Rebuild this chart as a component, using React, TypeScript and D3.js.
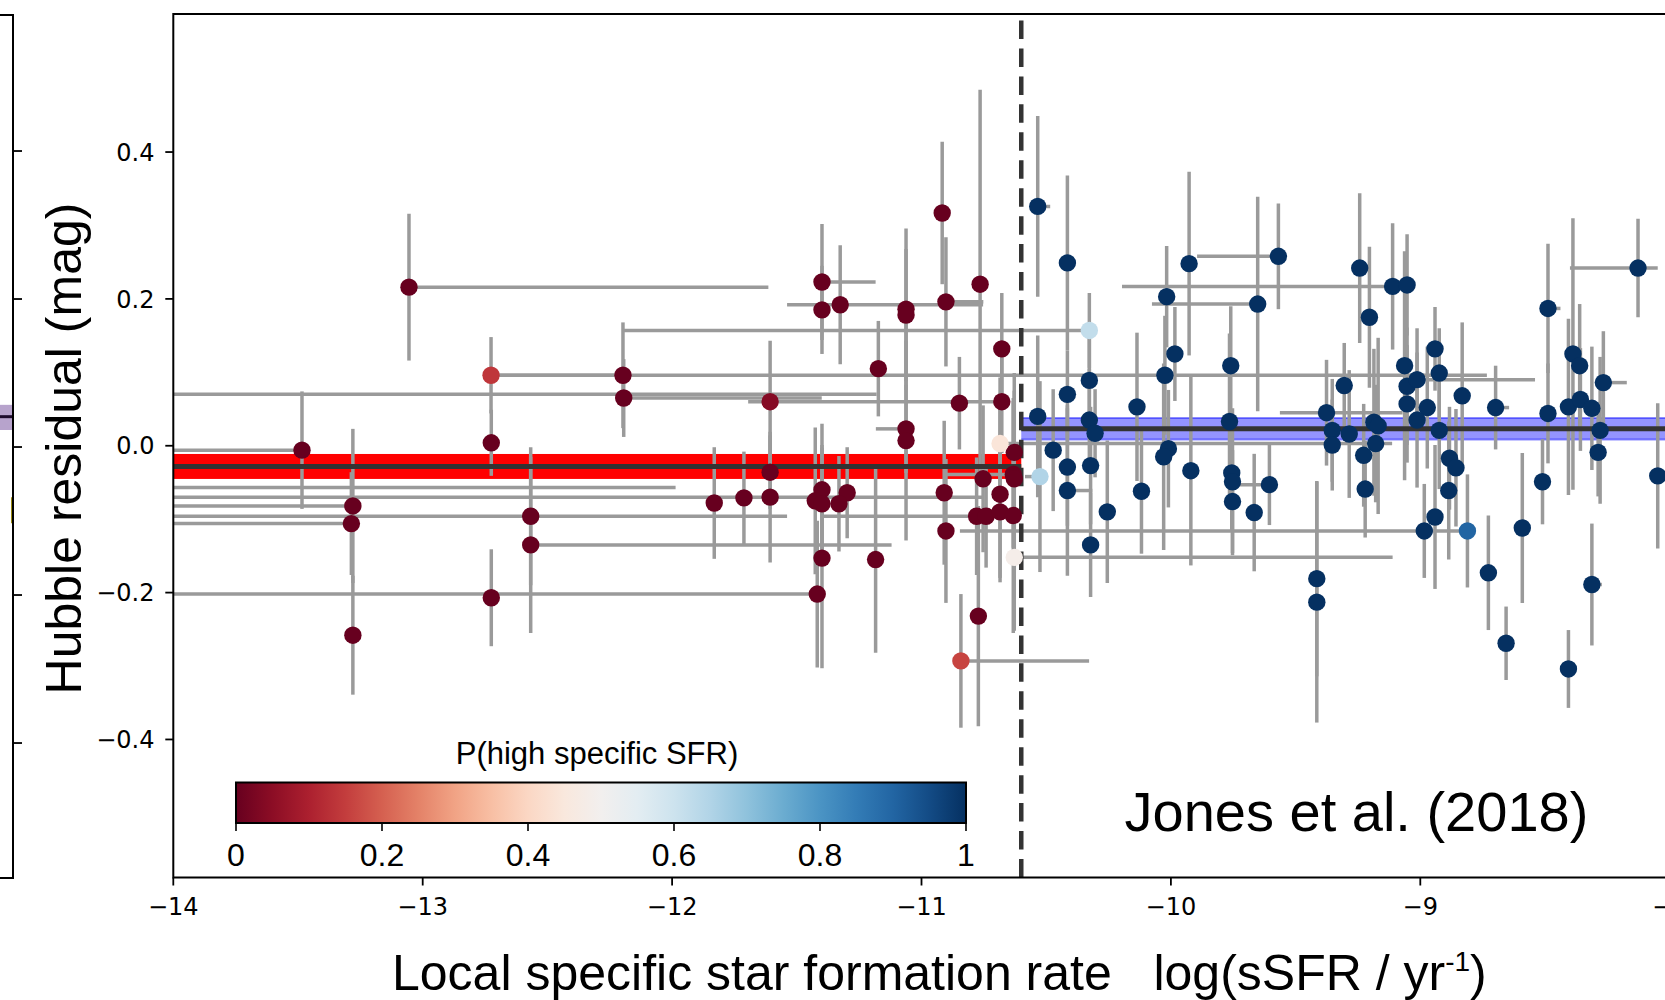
import React from 'react';
import * as d3 from 'd3';

const W = 1665;
const H = 1000;

// ---- data: local sSFR (x), Hubble residual (y), errors, P(high sSFR) ----
const sSFR = [
  -13.055, -12.726, -12.197, -12.194, -13.484, -12.725, -13.28, -13.286, -13.28, -12.725,
  -12.567, -12.567, -11.831, -11.712, -11.607, -11.607, -11.607, -11.399, -11.399, -11.326,
  -11.062, -11.062, -10.917, -10.902, -10.765, -10.678, -11.173, -10.848, -10.678, -11.062,
  -11.062, -11.399, -11.426, -11.399, -11.298, -11.331, -10.909, -10.902, -10.753, -10.685,
  -10.779, -10.741, -10.685, -10.632, -10.628, -10.632, -10.628, -10.685, -10.628, -11.399,
  -11.184, -11.418, -10.772, -10.842, -14.2, -14.2,
  -10.534, -10.415, -10.327, -10.327, -10.415, -10.534, -10.327, -10.304, -10.472, -10.415,
  -10.322, -10.525, -10.415, -10.255, -10.322,
  -9.927, -9.569, -10.017, -9.652, -9.243, -9.204, -9.111, -9.053, -9.984, -10.024,
  -9.76, -10.136, -9.765, -10.01, -10.029, -9.92, -10.118, -9.756, -9.753, -9.753,
  -9.605, -9.666, -9.415, -9.415, -9.305, -9.376, -9.353, -9.353, -9.285, -9.186,
  -9.169, -9.179, -9.227, -9.221, -9.063, -9.053, -9.013, -9.053, -8.972, -9.013,
  -8.941, -8.924, -8.924, -8.832, -8.883, -8.857, -8.886, -8.941, -8.984, -8.811,
  -8.698, -8.727, -8.656, -8.591, -8.488, -8.488, -8.51, -8.388, -8.361, -8.406,
  -8.358, -8.312, -8.266, -8.279, -8.287, -8.312, -8.406, -8.127, -8.048,
];
const hubbleResid = [
  0.216, 0.096, 0.096, 0.065, -0.006, 0.004, -0.082, -0.106, -0.258, -0.207,
  -0.096, -0.135, -0.078, -0.071, 0.06, -0.036, -0.07, 0.223, 0.185, 0.192,
  0.186, 0.178, 0.317, 0.196, 0.22, 0.132, 0.105, 0.058, 0.06, 0.023,
  0.007, -0.06, -0.075, -0.079, -0.064, -0.079, -0.064, -0.116, -0.045, -0.066,
  -0.096, -0.096, -0.09, -0.095, -0.009, -0.039, -0.045, 0.003, -0.152, -0.153,
  -0.155, -0.202, -0.232, -0.293, 0.07, -0.057,
  0.326, 0.249, 0.157, 0.089, 0.07, 0.04, 0.035, 0.017, -0.006, -0.029,
  -0.027, -0.042, -0.061, -0.09, -0.135,
  0.248, 0.258, 0.203, 0.193, 0.242, 0.175, 0.217, 0.219, 0.125, 0.096,
  0.109, 0.053, 0.033, -0.004, -0.015, -0.034, -0.062, -0.037, -0.049, -0.076,
  -0.053, -0.091, -0.181, -0.213, 0.082, 0.045, 0.021, 0.001, 0.016, 0.032,
  0.027, 0.003, -0.013, -0.059, 0.109, 0.081, 0.09, 0.057, 0.052, 0.035,
  0.132, 0.099, 0.021, 0.068, -0.017, -0.03, -0.061, -0.097, -0.116, -0.116,
  0.052, -0.173, -0.269, -0.112, 0.187, 0.044, -0.049, 0.125, 0.109, 0.053,
  0.063, 0.051, 0.086, 0.021, -0.009, -0.189, -0.304, 0.242, -0.041,
];
const residErr = [
  0.1, 0.052, 0.072, 0.053, 0.08, 0.045, 0.105, 0.07, 0.081, 0.066,
  0.094, 0.12, 0.076, 0.063, 0.083, 0.05, 0.089, 0.079, 0.06, 0.081,
  0.11, 0.09, 0.097, 0.088, 0.265, 0.076, 0.065, 0.063, 0.07, 0.06,
  0.136, 0.09, 0.1, 0.08, 0.062, 0.065, 0.098, 0.098, 0.1, 0.12,
  0.08, 0.07, 0.09, 0.16, 0.108, 0.1, 0.12, 0.09, 0.1, 0.15,
  0.127, 0.1, 0.15, 0.091, 0.03, 0.03,
  0.123, 0.119, 0.051, 0.07, 0.06, 0.11, 0.07, 0.06, 0.083, 0.08,
  0.08, 0.13, 0.116, 0.097, 0.071,
  0.125, 0.072, 0.069, 0.146, 0.102, 0.096, 0.086, 0.069, 0.064, 0.081,
  0.081, 0.101, 0.12, 0.08, 0.127, 0.129, 0.085, 0.08, 0.1, 0.07,
  0.055, 0.08, 0.133, 0.164, 0.058, 0.072, 0.07, 0.062, 0.087, 0.1,
  0.12, 0.08, 0.07, 0.066, 0.156, 0.08, 0.07, 0.08, 0.083, 0.092,
  0.057, 0.061, 0.08, 0.1, 0.07, 0.08, 0.094, 0.098, 0.064, 0.077,
  0.057, 0.078, 0.05, 0.102, 0.088, 0.068, 0.058, 0.185, 0.084, 0.12,
  0.07, 0.084, 0.07, 0.1, 0.06, 0.083, 0.053, 0.067, 0.099,
];
const sSFRErrLo = [
  0, 0, 0, 0, 1.0, 0, 0.9, 0.9, 0, 0,
  1.6, 0, 0, 0, 0.088, 0, 2.6, 0, 0, 0.213,
  0, 0, 0, 0, 0, 0, 0, 0, 0, 0.121,
  0, 0, 0, 0, 0, 0, 0, 0, 0, 0,
  0.616, 0, 0, 0, 0, 0.266, 0, 0, 0, 0,
  0, 2.7, 0, 0, 0, 0,
  0, 0, 1.87, 0, 0, 0, 0, 0, 0, 0,
  0, 0.06, 0, 0, 0,
  0, 0.326, 0, 0.424, 0, 0, 1.085, 0, 0, 2.702,
  0, 0, 0, 0, 0, 0, 0, 0, 0, 0,
  0.152, 0, 0, 0, 0, 0.187, 0, 0, 0, 0,
  0, 0, 0, 0, 0, 0, 0, 0, 0, 0,
  0, 0, 0, 0, 0, 0, 0, 0, 0, 2.035,
  0, 0, 0, 0, 0, 0, 0, 0, 0, 0,
  0, 0, 0, 0, 0, 0, 0, 0.273, 0,
];
const sSFRErrHi = [
  1.441, 0.529, 0, 0.794, 0, 0, 0, 0, 0, 0,
  1.028, 1.447, 0, 0, 0.962, 0, 0.854, 0.215, 0, 0.573,
  0, 0, 0, 0.15, 0, 0, 0, 0, 0, 0,
  0, 0, 0, 0, 0, 0, 0, 0, 0, 0,
  0, 0, 0, 0, 0, 0, 0, 1.572, 1.517, 0,
  0, 0, 0, 0.514, 3.02, 2.214,
  0.05, 0, 0, 0, 0, 0, 0, 0, 0, 0,
  0, 0, 0.1, 0, 0,
  0, 0, 0, 0, 0, 0, 0, 0, 0, 1.291,
  0, 0, 0, 0, 0, 0, 0, 0, 0, 0,
  0, 0, 0, 0, 0, 0.305, 0, 0, 0, 0,
  0, 0, 0, 0, 0, 0, 0.473, 0, 0, 0,
  0, 0, 0, 0, 0, 0, 0, 0, 0, 0,
  0.054, 0, 0, 0, 0.05, 0, 0, 0, 0, 0,
  0, 0, 0.094, 0, 0, 0.04, 0, 0.079, 0,
];
const pHigh = [
  0, 0.14, 0, 0, 0, 0, 0, 0, 0, 0,
  0, 0, 0, 0, 0.04, 0, 0, 0, 0, 0,
  0, 0, 0, 0, 0, 0, 0, 0, 0, 0,
  0, 0, 0, 0, 0, 0, 0, 0, 0, 0,
  0, 0, 0, 0, 0, 0, 0, 0.44, 0.48, 0,
  0, 0, 0, 0.16, 0, 0,
  1, 1, 0.62, 1, 1, 1, 1, 1, 1, 1,
  1, 0.65, 1, 1, 1,
  1, 1, 1, 1, 1, 1, 1, 1, 1, 1,
  1, 1, 1, 1, 1, 1, 1, 1, 1, 1,
  1, 1, 1, 1, 1, 1, 1, 1, 1, 1,
  1, 1, 1, 1, 1, 1, 1, 1, 1, 1,
  1, 1, 1, 1, 1, 1, 1, 1, 1, 0.9,
  1, 1, 1, 1, 1, 1, 1, 1, 1, 1,
  1, 1, 1, 1, 1, 1, 1, 1, 1,
];

const xTicks = [-14, -13, -12, -11, -10, -9, -8];
const yTicks = [-0.4, -0.2, 0, 0.2, 0.4];
const cbTicks = [0, 0.2, 0.4, 0.6, 0.8, 1];
const cbTickLabels = ['0', '0.2', '0.4', '0.6', '0.8', '1'];

// step split and mean residuals on each side
const splitSSFR = -10.6;
const lowMean = -0.0282;
const lowMeanErr = 0.017;
const highMean = 0.0232;
const highMeanErr = 0.0146;

// neighbouring (cropped) panel on the far left
const leftTicks = [-0.4, -0.2, 0, 0.2, 0.4];
const leftMean = 0.041;
const leftBand = [0.023, 0.057];
const leftYellow = [-0.103, -0.068];

const SANS = '"Liberation Sans", Arial, Helvetica, sans-serif';
const DEJA = '"DejaVu Sans", sans-serif';
const GRAY = '#9a9a9a';

export default function App() {
  const plotL = 173.3;
  const plotT = 14;
  const plotB = 877.5;
  const x = d3.scaleLinear().domain([-14, -8]).range([plotL, 1669.7]);
  const y = d3.scaleLinear().domain([-0.588, 0.588]).range([plotB, plotT]);
  const yL = d3.scaleLinear().domain([-0.5824, 0.5838]).range([878, 15]);
  const cb = d3.scaleLinear().domain([0, 1]).range([236, 966]);
  const cbTop = 782.5;
  const cbBot = 823;

  const idx = d3.range(sSFR.length);
  const gradStops = d3.range(0, 1.0001, 0.05);

  const xs = x(splitSSFR);

  return (
    <div style={{ position: 'fixed', left: 0, top: 0, width: W, height: H, background: '#fff' }}>
      <svg width={W} height={H} viewBox={`0 0 ${W} ${H}`} style={{ display: 'block' }}>
        <defs>
          <clipPath id="plotClip">
            <rect x={plotL} y={plotT} width={W - plotL} height={plotB - plotT} />
          </clipPath>
          <linearGradient id="rdbu" x1="0" x2="1" y1="0" y2="0">
            {gradStops.map((t) => (
              <stop key={t} offset={`${t * 100}%`} stopColor={d3.interpolateRdBu(t)} />
            ))}
          </linearGradient>
        </defs>
        <rect x={0} y={0} width={W} height={H} fill="#fff" />

        {/* left neighbour panel */}
        <g>
          <rect x={0} y={yL(leftBand[1])} width={12} height={yL(leftBand[0]) - yL(leftBand[1])} fill="#b7a3cc" />
          <line x1={0} x2={12} y1={yL(leftMean)} y2={yL(leftMean)} stroke="#1d0b2c" strokeWidth={3} />
          <line x1={12} x2={12} y1={yL(leftYellow[1])} y2={yL(leftYellow[0])} stroke="#9c8a10" strokeWidth={2} />
          <path d={`M0,${yL.range()[1]} H13 V${yL.range()[0]} H0`} fill="none" stroke="#000" strokeWidth={2} />
          {leftTicks.map((t) => (
            <line key={t} x1={13} x2={22} y1={yL(t)} y2={yL(t)} stroke="#000" strokeWidth={1.8} />
          ))}
        </g>

        {/* main panel */}
        <g clipPath="url(#plotClip)">
          {/* bands */}
          <rect
            x={x(-14.6)}
            y={y(lowMean + lowMeanErr)}
            width={xs - x(-14.6)}
            height={y(lowMean - lowMeanErr) - y(lowMean + lowMeanErr)}
            fill="#ff0000"
          />
          <rect
            x={xs}
            y={y(highMean + highMeanErr)}
            width={x(-7.5) - xs}
            height={y(highMean - highMeanErr) - y(highMean + highMeanErr)}
            fill="#0000ff"
            fillOpacity={0.42}
          />
          <line x1={xs} x2={x(-7.5)} y1={y(highMean + highMeanErr)} y2={y(highMean + highMeanErr)} stroke="#0000ff" strokeOpacity={0.45} strokeWidth={2} />
          <line x1={xs} x2={x(-7.5)} y1={y(highMean - highMeanErr)} y2={y(highMean - highMeanErr)} stroke="#0000ff" strokeOpacity={0.45} strokeWidth={2} />

          {/* error bars */}
          {idx.map((i) => {
            const cx = x(sSFR[i]);
            const cy = y(hubbleResid[i]);
            const lo = sSFRErrLo[i];
            const hi = sSFRErrHi[i];
            return (
              <g key={`e${i}`} stroke={GRAY} strokeWidth={3.5}>
                <line x1={cx} x2={cx} y1={y(hubbleResid[i] + residErr[i])} y2={y(hubbleResid[i] - residErr[i])} />
                {lo + hi > 0 && <line x1={x(sSFR[i] - lo)} x2={x(sSFR[i] + hi)} y1={cy} y2={cy} />}
              </g>
            );
          })}

          {/* mean lines */}
          <line x1={x(-14.6)} x2={xs} y1={y(lowMean)} y2={y(lowMean)} stroke="#333" strokeWidth={5} />
          <line x1={xs} x2={x(-7.5)} y1={y(highMean)} y2={y(highMean)} stroke="#333" strokeWidth={5} />

          {/* split */}
          <line x1={xs} x2={xs} y1={plotB} y2={plotT} stroke="#333" strokeWidth={4.5} strokeDasharray="18.5 9.45" />

          {/* points */}
          {idx.map((i) => (
            <circle key={`p${i}`} cx={x(sSFR[i])} cy={y(hubbleResid[i])} r={8.7} fill={d3.interpolateRdBu(pHigh[i])} />
          ))}
        </g>

        {/* spines */}
        <path d={`M${W + 5},${plotT} H${plotL} V${plotB} H${W + 5}`} fill="none" stroke="#000" strokeWidth={2} />

        {/* y ticks */}
        {yTicks.map((t) => (
          <g key={`yt${t}`}>
            <line x1={plotL - 8} x2={plotL} y1={y(t)} y2={y(t)} stroke="#000" strokeWidth={1.8} />
            <text x={154.5} y={y(t) + 8.7} textAnchor="end" fontFamily={DEJA} fontSize={24} fill="#000">
              {d3.format('.1f')(t)}
            </text>
          </g>
        ))}
        {/* x ticks */}
        {xTicks.map((t) => (
          <g key={`xt${t}`}>
            <line x1={x(t)} x2={x(t)} y1={plotB} y2={plotB + 8} stroke="#000" strokeWidth={1.8} />
            <text x={x(t)} y={915} textAnchor="middle" fontFamily={DEJA} fontSize={24} fill="#000">
              {d3.format('d')(t)}
            </text>
          </g>
        ))}

        {/* colorbar */}
        <rect x={cb(0)} y={cbTop} width={cb(1) - cb(0)} height={cbBot - cbTop} fill="url(#rdbu)" stroke="#000" strokeWidth={2} />
        {cbTicks.map((t, k) => (
          <g key={`cb${t}`}>
            <line x1={cb(t)} x2={cb(t)} y1={cbBot} y2={cbBot + 8} stroke="#000" strokeWidth={1.6} />
            <text x={cb(t)} y={865.5} textAnchor="middle" fontFamily={SANS} fontSize={32} fill="#000">
              {cbTickLabels[k]}
            </text>
          </g>
        ))}
        <text x={597} y={764} textAnchor="middle" fontFamily={SANS} fontSize={31} fill="#000">
          P(high specific SFR)
        </text>

        {/* annotation */}
        <text x={1124.5} y={831} fontFamily={SANS} fontSize={56} fill="#000">
          Jones et al. (2018)
        </text>

        {/* axis labels */}
        <text
          transform={`translate(80.5, 448.5) rotate(-90)`}
          textAnchor="middle"
          fontFamily={SANS}
          fontSize={50}
          fill="#000"
        >
          Hubble residual (mag)
        </text>
        <text x={392} y={990} fontFamily={SANS} fontSize={50} fill="#000" style={{ whiteSpace: 'pre' }}>
          {'Local specific star formation rate   log(sSFR / yr'}
          <tspan fontSize={28} dy={-19}>-1</tspan>
          <tspan dy={19}>)</tspan>
        </text>
      </svg>
    </div>
  );
}
